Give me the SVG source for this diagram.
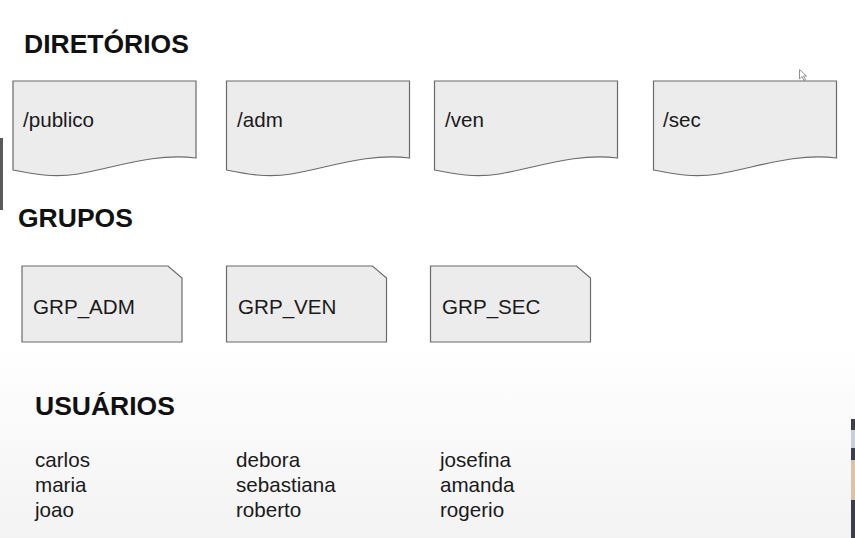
<svg xmlns="http://www.w3.org/2000/svg" width="855" height="538" viewBox="0 0 855 538">
  <style>
    .title { font-family: "Liberation Sans", Arial, sans-serif; font-size: 26.5px; font-weight: bold; fill: #111; }
    .label { font-family: "Liberation Sans", Arial, sans-serif; font-size: 20.6px; fill: #1a1a1a; }
    .shape { fill: #ececec; stroke: #6b6b6b; stroke-width: 1.2; }
  </style>
  <defs>
    <linearGradient id="floor" x1="0" y1="0" x2="0" y2="1">
      <stop offset="0" stop-color="#ffffff"/>
      <stop offset="1" stop-color="#f3f3f3"/>
    </linearGradient>
    <!-- directory: document shape with wavy bottom edge, origin at top-left -->
    <path id="doc" d="M0,0 H183 V77 C140,72 105,86 65,93 C40,97 20,93 0,89 Z"/>
    <!-- group: card with clipped top-right corner -->
    <path id="card" d="M0,0 H146 L160,12 V76 H0 Z"/>
  </defs>

  <!-- page background -->
  <rect x="0" y="0" width="855" height="538" fill="#ffffff"/>
  <rect x="0" y="345" width="855" height="193" fill="url(#floor)"/>

  <!-- side edge strips -->
  <rect x="0" y="138" width="3" height="72" fill="#5a5a5a"/>
  <rect x="851" y="419" width="4" height="119" fill="#3a3f4a"/>
  <rect x="851" y="430" width="4" height="18" fill="#c9d0dc"/>
  <rect x="851" y="460" width="4" height="40" fill="#d8c3b0"/>

  <!-- pointer -->
  <path d="M799.5,69.5 V79 L802,76.5 L804,80.5 L805.5,79.8 L803.6,76 H806.5 Z" fill="#ffffff" stroke="#777" stroke-width="0.8"/>

  <!-- section headings -->
  <text class="title" x="24" y="53">DIRETÓRIOS</text>
  <text class="title" x="18" y="227">GRUPOS</text>
  <text class="title" x="35" y="415">USUÁRIOS</text>

  <!-- directories -->
  <g id="dir-publico">
    <use href="#doc" class="shape" x="13" y="81"/>
    <text class="label" x="23" y="127">/publico</text>
  </g>
  <g id="dir-adm">
    <use href="#doc" class="shape" x="226.5" y="81"/>
    <text class="label" x="237" y="127">/adm</text>
  </g>
  <g id="dir-ven">
    <use href="#doc" class="shape" x="434.5" y="81"/>
    <text class="label" x="445" y="127">/ven</text>
  </g>
  <g id="dir-sec">
    <use href="#doc" class="shape" x="653.5" y="81"/>
    <text class="label" x="663" y="127">/sec</text>
  </g>

  <!-- groups -->
  <g id="grp-adm">
    <use href="#card" class="shape" x="22" y="266"/>
    <text class="label" x="33" y="314">GRP_ADM</text>
  </g>
  <g id="grp-ven">
    <use href="#card" class="shape" x="226.5" y="266"/>
    <text class="label" x="238" y="314">GRP_VEN</text>
  </g>
  <g id="grp-sec">
    <use href="#card" class="shape" x="430.5" y="266"/>
    <text class="label" x="442" y="314">GRP_SEC</text>
  </g>

  <!-- connectors (none drawn) -->
  <g id="connectors"/>

  <!-- users -->
  <g id="users-adm">
    <text class="label" x="35" y="467">carlos</text>
    <text class="label" x="35" y="492">maria</text>
    <text class="label" x="35" y="517">joao</text>
  </g>
  <g id="users-ven">
    <text class="label" x="236" y="467">debora</text>
    <text class="label" x="236" y="492">sebastiana</text>
    <text class="label" x="236" y="517">roberto</text>
  </g>
  <g id="users-sec">
    <text class="label" x="440" y="467">josefina</text>
    <text class="label" x="440" y="492">amanda</text>
    <text class="label" x="440" y="517">rogerio</text>
  </g>
</svg>
